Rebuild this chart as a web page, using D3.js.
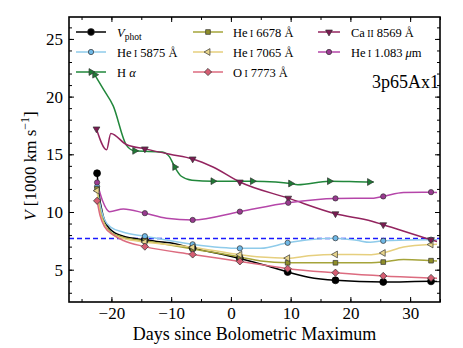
<!DOCTYPE html>
<html>
<head>
<meta charset="utf-8">
<script src="https://cdn.jsdelivr.net/npm/d3@7"></script>
<style>
  body { margin: 0; background: #fff; }
</style>
</head>
<body>
<svg id="chart" width="463" height="348"></svg>
<script>
// [day, velocity (1000 km/s), 1 = plotted marker]
const vphot = [[-22.4,13.36,1],[-22.1,11.7],[-21.4,9.7],[-20.3,8.55],[-18.0,7.9],[-14.4,7.6,1],[-12.4,7.45],[-10.2,7.33],[-6.4,6.87,1],[1.5,5.97,1],[5.4,5.43],[9.5,4.8,1],[13,4.35],[17.5,4.08,1],[25.5,3.94,1],[33.5,3.99,1],[34.5,3.98]];
const he5875 = [[-22.4,12.2,1],[-22.0,10.9],[-21.2,9.4],[-20.0,8.65],[-18.0,8.25],[-14.4,7.9,1],[-6.4,7.2,1],[1.5,6.85,1],[5,6.85],[9.5,7.33,1],[13,7.6],[17.5,7.73,1],[21,7.55],[23.3,7.37],[25.5,7.5,1],[33.5,7.6,1],[34.5,7.6]];
const halpha = [[-22.8,21.9,1],[-21.3,20.6],[-19.7,19.2],[-17.5,15.8],[-16.1,15.3,1],[-11.5,15.2],[-10.3,14.8],[-9.4,13.9,1],[-8.3,13.1],[-6.5,12.75],[-3.0,12.67,1],[3.6,12.67,1],[7.5,12.6],[10.0,12.47,1],[11.2,12.37],[16.5,12.67,1],[23.2,12.6,1],[23.9,12.6]];
const he6678 = [[-22.4,12.0,1],[-22.0,10.4],[-21.2,9.0],[-20,8.2],[-18,7.8],[-14.4,7.5,1],[-6.4,6.8,1],[1.5,6.1,1],[5,5.75],[9.5,5.6,1],[17.5,5.6,1],[23.5,5.6],[25.5,5.66,1],[28.9,5.89],[33.5,5.78,1],[34.5,5.75]];
const he7065 = [[-22.4,11.85,1],[-22.0,10.2],[-21.2,8.9],[-20,8.1],[-18,7.7],[-14.4,7.4,1],[-6.4,6.95,1],[1.5,6.3,1],[5,6.1],[9.5,6.0,1],[13,6.2],[17.5,6.32,1],[23.5,6.3],[25.5,6.45,1],[28.9,6.96],[33.5,7.18,1],[34.5,7.2]];
const o7773 = [[-22.4,10.97,1],[-21.9,9.68],[-21.1,8.68],[-19.7,8.02],[-18.0,7.53],[-14.4,7.0,1],[-6.4,6.32,1],[1.5,5.72,1],[9.5,5.09,1],[17.5,4.74,1],[25.5,4.46,1],[33.5,4.28,1],[34.5,4.26]];
const ca8569 = [[-22.5,17.2,1],[-20.8,15.4],[-20.1,16.8],[-17.5,15.85],[-14.4,15.47,1],[-10.2,15.0],[-6.4,14.6,1],[-3,13.9],[1.5,12.6,1],[9.6,11.2,1],[17.5,9.85,1],[23.6,9.2],[25.5,8.9,1],[33.5,7.6,1],[34.5,7.45]];
const he1083 = [[-22.4,12.56,1],[-21.5,11.0],[-20.3,10.03],[-18,10.26],[-14.4,9.9,1],[-10.8,9.46],[-6.4,9.31,1],[1.5,10.03,1],[9.6,10.8,1],[17.5,11.18,1],[23.9,11.2],[25.5,11.35,1],[28.9,11.7],[33.5,11.72,1],[34.5,11.7]];
const refVel = 7.7;   // dashed blue line
const xTicks = [-20, -10, 0, 10, 20, 30];
const yTicks = [5, 10, 15, 20, 25];

const series = [
  { data: vphot,  line: "#000000", fill: "#000000", shape: "circle", size: 38, label: "vphot" },
  { data: he5875, line: "#8fcbea", fill: "#6fb8e6", shape: "circle", size: 22, label: "He|I| 5875 Å" },
  { data: halpha, line: "#21873b", fill: "#1f7a35", shape: "tri-right", size: 20, label: "halpha" },
  { data: he6678, line: "#a5a43a", fill: "#8f8e2a", shape: "square", size: 22, label: "He|I| 6678 Å" },
  { data: he7065, line: "#e6cf7e", fill: "#e8d58c", shape: "tri-left", size: 20, label: "He|I| 7065 Å" },
  { data: o7773,  line: "#dc6b7f", fill: "#d55d72", shape: "diamond", size: 26, label: "O|I| 7773 Å" },
  { data: ca8569, line: "#93245f", fill: "#7c1a52", shape: "tri-down", size: 20, label: "Ca|II| 8569 Å" },
  { data: he1083, line: "#b546a9", fill: "#993a90", shape: "circle", size: 22, label: "he1083" }
];

const svg = d3.select("#chart")
  .attr("font-family", "'Liberation Serif', 'Times New Roman', 'DejaVu Serif', serif");
const x = d3.scaleLinear().domain([-27.1, 35]).range([69, 440]);
const y = d3.scaleLinear().domain([2.2, 26.9]).range([302, 17]);

function symbolPath(shape, size) {
  let t = d3.symbolTriangle;
  if (shape === "circle") t = d3.symbolCircle;
  if (shape === "square" || shape === "diamond") t = d3.symbolSquare;
  return d3.symbol().type(t).size(size)();
}
function symbolRot(shape) {
  return { "tri-right": 90, "tri-down": 180, "tri-left": -90, "diamond": 45 }[shape] || 0;
}

svg.append("defs").append("clipPath").attr("id", "clip")
  .append("rect").attr("x", 69).attr("y", 17).attr("width", 371).attr("height", 285);

const plot = svg.append("g").attr("clip-path", "url(#clip)");

// reference line
plot.append("line")
  .attr("x1", x(-27.1)).attr("x2", x(35))
  .attr("y1", y(refVel)).attr("y2", y(refVel))
  .attr("stroke", "#1a1aff").attr("stroke-width", 1.6)
  .attr("stroke-dasharray", "5,3");

const line = d3.line().x(d => x(d[0])).y(d => y(d[1])).curve(d3.curveMonotoneX);

series.forEach(s => {
  plot.append("path")
    .attr("d", line(s.data))
    .attr("fill", "none")
    .attr("stroke", s.line)
    .attr("stroke-width", 1.5);
});
series.forEach(s => {
  plot.selectAll(null)
    .data(s.data.filter(d => d[2]))
    .enter().append("path")
    .attr("d", symbolPath(s.shape, s.size))
    .attr("transform", d => `translate(${x(d[0])},${y(d[1])}) rotate(${symbolRot(s.shape)})`)
    .attr("fill", s.fill)
    .attr("stroke", s.fill === "#000000" ? "#000" : "#333")
    .attr("stroke-width", 0.7);
});

// axes with inward ticks
function axisGroup(axis, transform) {
  const g = svg.append("g").attr("transform", transform).call(axis);
  g.select(".domain").remove();
  g.attr("font-family", null);
  g.selectAll("line").attr("stroke", "#000").attr("stroke-width", 1);
  g.selectAll("text").attr("fill", "#000");
  return g;
}
const xMinor = d3.range(-25, 36, 5);
const yMinor = d3.range(3, 27, 1);

axisGroup(d3.axisBottom(x).tickValues(xTicks).tickSize(-5).tickPadding(5), "translate(0,302)")
  .attr("font-size", 17);
axisGroup(d3.axisBottom(x).tickValues(xMinor).tickSize(-3).tickFormat(""), "translate(0,302)");
axisGroup(d3.axisTop(x).tickValues(xTicks).tickSize(-5).tickFormat(""), "translate(0,17)");
axisGroup(d3.axisTop(x).tickValues(xMinor).tickSize(-3).tickFormat(""), "translate(0,17)");
axisGroup(d3.axisLeft(y).tickValues(yTicks).tickSize(-5).tickPadding(6), "translate(69,0)")
  .attr("font-size", 17);
axisGroup(d3.axisLeft(y).tickValues(yMinor).tickSize(-3).tickFormat(""), "translate(69,0)");
axisGroup(d3.axisRight(y).tickValues(yTicks).tickSize(-5).tickFormat(""), "translate(440,0)");
axisGroup(d3.axisRight(y).tickValues(yMinor).tickSize(-3).tickFormat(""), "translate(440,0)");

svg.append("rect")
  .attr("x", 69).attr("y", 17).attr("width", 371).attr("height", 285)
  .attr("fill", "none").attr("stroke", "#000").attr("stroke-width", 1.6);

// axis titles
svg.append("text")
  .attr("x", (x(-27.1) + x(35)) / 2).attr("y", 340)
  .attr("text-anchor", "middle").attr("font-size", 18)
  .text("Days since Bolometric Maximum");

const yl = svg.append("text")
  .attr("transform", "translate(36,166) rotate(-90)")
  .attr("text-anchor", "middle").attr("font-size", 17);
yl.append("tspan").attr("font-style", "italic").text("V");
yl.append("tspan").text(" [1000 km s");
yl.append("tspan").attr("font-size", 12).attr("dy", -7).text("−1");
yl.append("tspan").attr("dy", 7).text("]");

svg.append("text")
  .attr("x", 439).attr("y", 88)
  .attr("text-anchor", "end").attr("font-size", 18)
  .text("3p65Ax1");

// legend
const cols = [{ x0: 76, x1: 106, tx: 117 }, { x0: 193, x1: 223, tx: 233 }, { x0: 318, x1: 340, tx: 351 }];
const rows = [32, 52, 72];
const legendPos = [[0,0],[0,1],[0,2],[1,0],[1,1],[1,2],[2,0],[2,1]];

series.forEach((s, i) => {
  const c = cols[legendPos[i][0]], ry = rows[legendPos[i][1]];
  const g = svg.append("g");
  g.append("line").attr("x1", c.x0).attr("x2", c.x1).attr("y1", ry).attr("y2", ry)
    .attr("stroke", s.line).attr("stroke-width", 1.5);
  g.append("path").attr("d", symbolPath(s.shape, s.size))
    .attr("transform", `translate(${(c.x0 + c.x1) / 2},${ry}) rotate(${symbolRot(s.shape)})`)
    .attr("fill", s.fill).attr("stroke", "#333").attr("stroke-width", 0.7);
  const t = g.append("text").attr("x", c.tx).attr("y", ry + 4.5).attr("font-size", 12.5);
  if (s.label === "vphot") {
    t.append("tspan").attr("font-style", "italic").text("V");
    t.append("tspan").attr("font-size", 9.5).attr("dy", 3).text("phot");
  } else if (s.label === "halpha") {
    t.append("tspan").text("H ");
    t.append("tspan").attr("font-style", "italic").text("α");
  } else if (s.label === "he1083") {
    t.append("tspan").text("He");
    t.append("tspan").attr("font-size", 9.5).text(" I");
    t.append("tspan").text(" 1.083 ");
    t.append("tspan").attr("font-style", "italic").text("μ");
    t.append("tspan").text("m");
  } else {
    const parts = s.label.split("|");
    t.append("tspan").text(parts[0]);
    t.append("tspan").attr("font-size", 9.5).text(" " + parts[1]);
    t.append("tspan").text(parts[2]);
  }
});
</script>
</body>
</html>
